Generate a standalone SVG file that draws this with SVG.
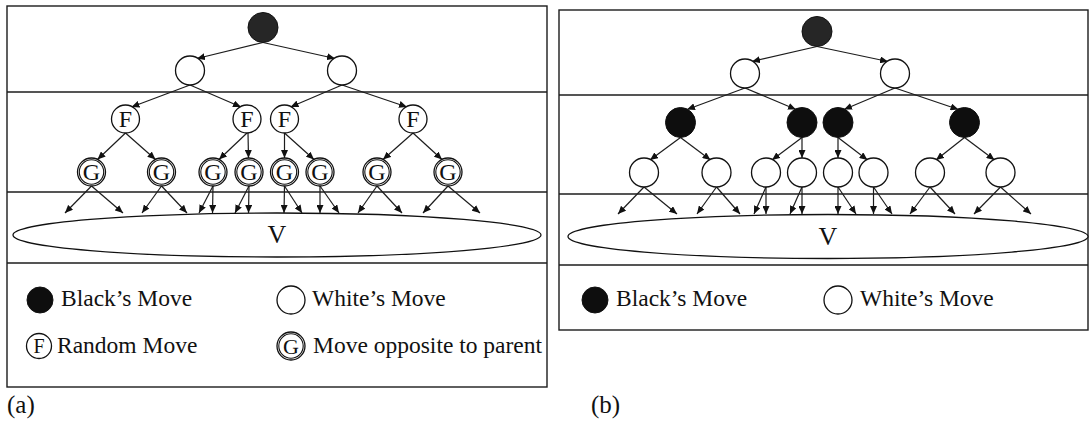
<svg xmlns="http://www.w3.org/2000/svg" width="1091" height="424" viewBox="0 0 1091 424">
  <defs>
    <marker id="ah" viewBox="0 0 8 7" refX="8" refY="3.5" markerWidth="8" markerHeight="7" markerUnits="userSpaceOnUse" orient="auto">
      <path d="M0,0 L8,3.5 L0,7 z" fill="#111"/>
    </marker>
  </defs>
  <style>
    .frame { fill: none; stroke: #1c1c1c; stroke-width: 1.4; }
    .sep { stroke: #1c1c1c; stroke-width: 1.3; }
    .edge { stroke: #1c1c1c; stroke-width: 1.2; fill: none; marker-end: url(#ah); }
    .w { fill: #fff; stroke: #111; stroke-width: 1.3; }
    .ring { fill: none; stroke: #111; stroke-width: 1.1; }
    .b { fill: #0e0e0e; stroke: #111; stroke-width: 1; }
    .root { fill: #262626; stroke: #111; stroke-width: 1; }
    .pool { fill: #fff; stroke: #111; stroke-width: 1.3; }
    text { font-family: "Liberation Serif", "Times New Roman", serif; fill: #111; }
    .nt { font-size: 24px; text-anchor: middle; }
    .vt { font-size: 26px; text-anchor: middle; }
    .leg { font-size: 23.5px; }
    .cap { font-size: 25px; }
  </style>

  <!-- panel frames and level separators -->
  <g id="frames">
    <rect class="frame" x="7" y="6" width="540" height="381"/>
    <line class="sep" x1="7" y1="92" x2="547" y2="92"/>
    <line class="sep" x1="7" y1="192" x2="547" y2="192"/>
    <line class="sep" x1="7" y1="263" x2="547" y2="263"/>
    <rect class="frame" x="559" y="10" width="529" height="320"/>
    <line class="sep" x1="559" y1="95" x2="1088" y2="95"/>
    <line class="sep" x1="559" y1="194" x2="1088" y2="194"/>
    <line class="sep" x1="559" y1="265" x2="1088" y2="265"/>
  </g>

  <!-- leaf value pools -->
  <g id="poolA">
    <ellipse class="pool" cx="277" cy="235" rx="264" ry="22"/>
    <text class="vt" x="277" y="243">V</text>
  </g>
  <g id="poolB">
    <ellipse class="pool" cx="828" cy="236.5" rx="260" ry="22"/>
    <text class="vt" x="828" y="245">V</text>
  </g>

  <!-- connectors -->
  <g id="connectors">
    <!-- tree (a) -->
    <line class="edge" x1="263" y1="42.5" x2="197" y2="58.5"/>
    <line class="edge" x1="263" y1="42.5" x2="335" y2="58.5"/>
    <line class="edge" x1="190" y1="85" x2="131.5" y2="107"/>
    <line class="edge" x1="190" y1="85" x2="241" y2="107"/>
    <line class="edge" x1="342" y1="85" x2="290.5" y2="107"/>
    <line class="edge" x1="342" y1="85" x2="407" y2="107"/>
    <line class="edge" x1="125.5" y1="133" x2="97.5" y2="159.5"/>
    <line class="edge" x1="125.5" y1="133" x2="155.5" y2="159.5"/>
    <line class="edge" x1="247" y1="133" x2="219" y2="159.5"/>
    <line class="edge" x1="248" y1="133" x2="248.5" y2="158"/>
    <line class="edge" x1="284.5" y1="133" x2="284.5" y2="158"/>
    <line class="edge" x1="284.5" y1="133" x2="314" y2="159.5"/>
    <line class="edge" x1="413" y1="133" x2="383" y2="159.5"/>
    <line class="edge" x1="413" y1="133" x2="442" y2="159.5"/>
    <line class="edge" x1="91.5" y1="186" x2="65" y2="213"/>
    <line class="edge" x1="91.5" y1="186" x2="123" y2="213"/>
    <line class="edge" x1="161.5" y1="186" x2="142" y2="213"/>
    <line class="edge" x1="161.5" y1="186" x2="187" y2="213"/>
    <line class="edge" x1="213" y1="186" x2="199" y2="213"/>
    <line class="edge" x1="213" y1="186" x2="212.5" y2="213"/>
    <line class="edge" x1="249" y1="186" x2="235" y2="213"/>
    <line class="edge" x1="249" y1="186" x2="248.5" y2="213"/>
    <line class="edge" x1="284.5" y1="186" x2="284" y2="213"/>
    <line class="edge" x1="284.5" y1="186" x2="302" y2="213"/>
    <line class="edge" x1="320" y1="186" x2="320" y2="213"/>
    <line class="edge" x1="320" y1="186" x2="339" y2="213"/>
    <line class="edge" x1="377" y1="186" x2="358" y2="213"/>
    <line class="edge" x1="377" y1="186" x2="402" y2="213"/>
    <line class="edge" x1="448" y1="186" x2="423" y2="213"/>
    <line class="edge" x1="448" y1="186" x2="480" y2="213"/>
    <!-- tree (b) -->
    <line class="edge" x1="817" y1="46.5" x2="752" y2="61.5"/>
    <line class="edge" x1="817" y1="46.5" x2="888" y2="61.5"/>
    <line class="edge" x1="745" y1="88" x2="687" y2="109.5"/>
    <line class="edge" x1="745" y1="88" x2="796" y2="109.5"/>
    <line class="edge" x1="895" y1="88" x2="844" y2="109.5"/>
    <line class="edge" x1="895" y1="88" x2="958.5" y2="109.5"/>
    <line class="edge" x1="680.5" y1="137.5" x2="650" y2="160"/>
    <line class="edge" x1="680.5" y1="137.5" x2="710.5" y2="160"/>
    <line class="edge" x1="802" y1="137.5" x2="772" y2="160"/>
    <line class="edge" x1="802" y1="137.5" x2="802" y2="158"/>
    <line class="edge" x1="838" y1="137.5" x2="838" y2="158"/>
    <line class="edge" x1="838" y1="137.5" x2="867.5" y2="160"/>
    <line class="edge" x1="964.5" y1="137.5" x2="936" y2="160"/>
    <line class="edge" x1="964.5" y1="137.5" x2="994.5" y2="160"/>
    <line class="edge" x1="644" y1="187" x2="618" y2="214"/>
    <line class="edge" x1="644" y1="187" x2="677" y2="214"/>
    <line class="edge" x1="716.5" y1="187" x2="697" y2="214"/>
    <line class="edge" x1="716.5" y1="187" x2="740" y2="214"/>
    <line class="edge" x1="766" y1="187" x2="754" y2="214"/>
    <line class="edge" x1="766" y1="187" x2="766" y2="214"/>
    <line class="edge" x1="802" y1="187" x2="790" y2="214"/>
    <line class="edge" x1="802" y1="187" x2="802" y2="214"/>
    <line class="edge" x1="838" y1="187" x2="838" y2="214"/>
    <line class="edge" x1="838" y1="187" x2="856" y2="214"/>
    <line class="edge" x1="873.5" y1="187" x2="873.5" y2="214"/>
    <line class="edge" x1="873.5" y1="187" x2="892" y2="214"/>
    <line class="edge" x1="930" y1="187" x2="910" y2="214"/>
    <line class="edge" x1="930" y1="187" x2="955" y2="214"/>
    <line class="edge" x1="1000.5" y1="187" x2="974" y2="214"/>
    <line class="edge" x1="1000.5" y1="187" x2="1031" y2="214"/>
  </g>

  <!-- tree (a) nodes -->
  <g id="a-root"><circle class="root" cx="263" cy="27.5" r="15"/></g>
  <g id="a-w1"><circle class="w" cx="190" cy="70.5" r="14.5"/></g>
  <g id="a-w2"><circle class="w" cx="342" cy="70.5" r="14.5"/></g>
  <g id="a-f1"><circle class="w" cx="125.5" cy="119" r="14"/><text class="nt" x="125.5" y="127">F</text></g>
  <g id="a-f2"><circle class="w" cx="247" cy="119" r="14"/><text class="nt" x="247" y="127">F</text></g>
  <g id="a-f3"><circle class="w" cx="284.5" cy="119" r="14"/><text class="nt" x="284.5" y="127">F</text></g>
  <g id="a-f4"><circle class="w" cx="413" cy="119" r="14"/><text class="nt" x="413" y="127">F</text></g>
  <g id="a-g1"><circle class="w" cx="91.5" cy="172" r="14"/><circle class="ring" cx="91.5" cy="172" r="12.2"/><text class="nt" x="91.5" y="180">G</text></g>
  <g id="a-g2"><circle class="w" cx="161.5" cy="172" r="14"/><circle class="ring" cx="161.5" cy="172" r="12.2"/><text class="nt" x="161.5" y="180">G</text></g>
  <g id="a-g3"><circle class="w" cx="213" cy="172" r="14"/><circle class="ring" cx="213" cy="172" r="12.2"/><text class="nt" x="213" y="180">G</text></g>
  <g id="a-g4"><circle class="w" cx="249" cy="172" r="14"/><circle class="ring" cx="249" cy="172" r="12.2"/><text class="nt" x="249" y="180">G</text></g>
  <g id="a-g5"><circle class="w" cx="284.5" cy="172" r="14"/><circle class="ring" cx="284.5" cy="172" r="12.2"/><text class="nt" x="284.5" y="180">G</text></g>
  <g id="a-g6"><circle class="w" cx="320" cy="172" r="14"/><circle class="ring" cx="320" cy="172" r="12.2"/><text class="nt" x="320" y="180">G</text></g>
  <g id="a-g7"><circle class="w" cx="377" cy="172" r="14"/><circle class="ring" cx="377" cy="172" r="12.2"/><text class="nt" x="377" y="180">G</text></g>
  <g id="a-g8"><circle class="w" cx="448" cy="172" r="14"/><circle class="ring" cx="448" cy="172" r="12.2"/><text class="nt" x="448" y="180">G</text></g>

  <!-- tree (b) nodes -->
  <g id="b-root"><circle class="root" cx="817" cy="31.5" r="15"/></g>
  <g id="b-w1"><circle class="w" cx="745" cy="73.5" r="14.5"/></g>
  <g id="b-w2"><circle class="w" cx="895" cy="73.5" r="14.5"/></g>
  <g id="b-b1"><circle class="b" cx="680.5" cy="122.5" r="15"/></g>
  <g id="b-b2"><circle class="b" cx="802" cy="122.5" r="15"/></g>
  <g id="b-b3"><circle class="b" cx="838" cy="122.5" r="15"/></g>
  <g id="b-b4"><circle class="b" cx="964.5" cy="122.5" r="15"/></g>
  <g id="b-l1"><circle class="w" cx="644" cy="172.5" r="14.5"/></g>
  <g id="b-l2"><circle class="w" cx="716.5" cy="172.5" r="14.5"/></g>
  <g id="b-l3"><circle class="w" cx="766" cy="172.5" r="14.5"/></g>
  <g id="b-l4"><circle class="w" cx="802" cy="172.5" r="14.5"/></g>
  <g id="b-l5"><circle class="w" cx="838" cy="172.5" r="14.5"/></g>
  <g id="b-l6"><circle class="w" cx="873.5" cy="172.5" r="14.5"/></g>
  <g id="b-l7"><circle class="w" cx="930" cy="172.5" r="14.5"/></g>
  <g id="b-l8"><circle class="w" cx="1000.5" cy="172.5" r="14.5"/></g>

  <!-- legend (a) -->
  <g id="a-legend-black"><circle class="b" cx="40" cy="300" r="13"/><text class="leg" x="61" y="306">Black’s Move</text></g>
  <g id="a-legend-white"><circle class="w" cx="291" cy="300" r="14"/><text class="leg" x="312" y="306">White’s Move</text></g>
  <g id="a-legend-f"><circle class="w" cx="39" cy="346" r="12.5"/><text x="39" y="353" font-size="20" text-anchor="middle">F</text><text class="leg" x="57" y="353">Random Move</text></g>
  <g id="a-legend-g"><circle class="w" cx="291" cy="346" r="14"/><circle class="ring" cx="291" cy="346" r="12.2"/><text x="291" y="353.5" font-size="22" text-anchor="middle">G</text><text class="leg" x="313" y="353">Move opposite to parent</text></g>

  <!-- legend (b) -->
  <g id="b-legend-black"><circle class="b" cx="595" cy="300" r="13"/><text class="leg" x="616" y="306">Black’s Move</text></g>
  <g id="b-legend-white"><circle class="w" cx="838" cy="300" r="14"/><text class="leg" x="860" y="306">White’s Move</text></g>

  <!-- panel captions -->
  <text class="cap" x="7" y="413">(a)</text>
  <text class="cap" x="591" y="413">(b)</text>
</svg>
